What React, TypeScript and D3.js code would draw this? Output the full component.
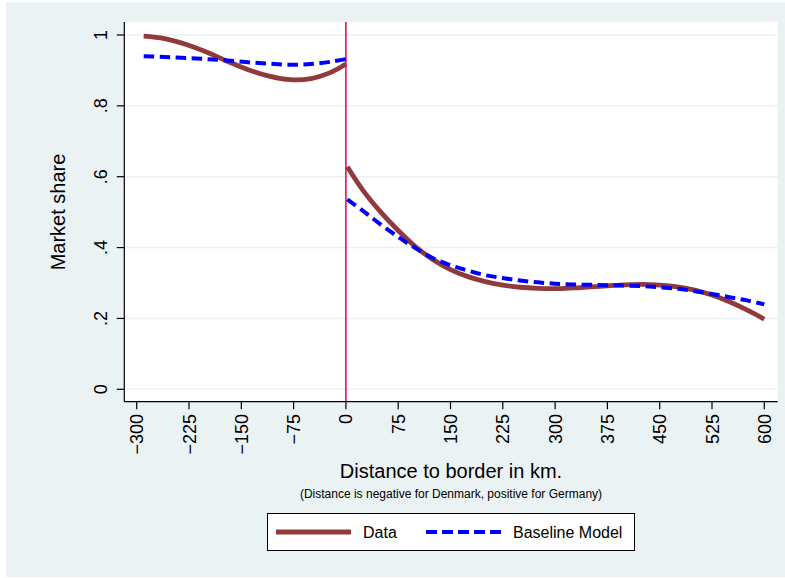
import * as d3 from "d3";

// distance to border (km) and market share
const leftKm = [-290, -260, -230, -200, -170, -140, -110, -80, -50, -20, 0];
const leftData = [0.997, 0.99, 0.974, 0.952, 0.926, 0.902, 0.884, 0.874, 0.877, 0.896, 0.918];
const leftModel = [0.94, 0.938, 0.935, 0.932, 0.928, 0.923, 0.919, 0.916, 0.918, 0.925, 0.932];

const rightKm = [2, 25, 50, 75, 100, 125, 150, 175, 200, 225, 250, 275, 300, 325, 350, 375, 400, 425, 450, 475, 500, 525, 550, 575, 600];
const rightData = [0.628, 0.56, 0.5, 0.448, 0.402, 0.366, 0.338, 0.318, 0.304, 0.294, 0.288, 0.285, 0.284, 0.286, 0.289, 0.292, 0.295, 0.296, 0.294, 0.289, 0.28, 0.266, 0.247, 0.224, 0.198];
const rightModel = [0.536, 0.503, 0.465, 0.43, 0.398, 0.37, 0.35, 0.335, 0.322, 0.314, 0.307, 0.302, 0.298, 0.296, 0.295, 0.294, 0.293, 0.291, 0.288, 0.284, 0.277, 0.269, 0.26, 0.251, 0.24];

const xTicks = [-300, -225, -150, -75, 0, 75, 150, 225, 300, 375, 450, 525, 600];
const yTicks = [0, 0.2, 0.4, 0.6, 0.8, 1];
const yTickLabels = ["0", ".2", ".4", ".6", ".8", "1"];

const dataColor = "#903a3c";
const modelColor = "#0000ff";
const bg = "#eaf2f3";
const font = "'Liberation Sans', Arial, Helvetica, sans-serif";

export default function App() {
  const W = 785;
  const H = 578;
  const plot = { left: 124.3, top: 22, right: 777.7, bottom: 401.7 };

  const x = d3.scaleLinear().domain([-300, 600]).range([136.7, 764.3]);
  const y = d3.scaleLinear().domain([0, 1]).range([389.3, 35]);

  const line = d3
    .line<[number, number]>()
    .x((d) => x(d[0]))
    .y((d) => y(d[1]))
    .curve(d3.curveCatmullRom.alpha(0.5));

  const zip = (xs: number[], ys: number[]) => xs.map((v, i) => [v, ys[i]] as [number, number]);
  const segments = [
    { km: leftKm, data: leftData, model: leftModel },
    { km: rightKm, data: rightData, model: rightModel },
  ];

  const fmtTick = (d: number) => (d < 0 ? "\u2212" + Math.abs(d) : String(d));

  return (
    <svg
      width={W}
      height={H}
      style={{ position: "absolute", left: 0, top: 0, fontFamily: font }}
    >
      <rect x={0} y={0} width={W} height={H} fill="#ffffff" />
      <rect x={6} y={2} width={W - 6} height={575} fill={bg} />
      <rect
        x={plot.left}
        y={plot.top}
        width={plot.right - plot.left}
        height={plot.bottom - plot.top}
        fill="#ffffff"
      />

      {/* grid */}
      {yTicks.map((t) => (
        <line
          key={"g" + t}
          x1={plot.left}
          x2={plot.right}
          y1={y(t)}
          y2={y(t)}
          stroke={bg}
          strokeWidth={1.5}
        />
      ))}

      {/* border line at 0 */}
      <line x1={x(0)} x2={x(0)} y1={plot.top} y2={plot.bottom} stroke="#d0103a" strokeWidth={1.5} />

      {/* series */}
      {segments.map((s, i) => (
        <path
          key={"d" + i}
          d={line(zip(s.km, s.data)) || ""}
          fill="none"
          stroke={dataColor}
          strokeWidth={4.8}
        />
      ))}
      {segments.map((s, i) => (
        <path
          key={"m" + i}
          d={line(zip(s.km, s.model)) || ""}
          fill="none"
          stroke={modelColor}
          strokeWidth={4}
          strokeDasharray="10.5,5.5"
        />
      ))}

      {/* axes */}
      <line x1={plot.left} x2={plot.left} y1={plot.top} y2={plot.bottom} stroke="#000" strokeWidth={1.2} />
      <line x1={plot.left} x2={plot.right} y1={plot.bottom} y2={plot.bottom} stroke="#000" strokeWidth={1.2} />

      {yTicks.map((t, i) => (
        <g key={"yt" + t}>
          <line x1={plot.left - 7.5} x2={plot.left} y1={y(t)} y2={y(t)} stroke="#000" strokeWidth={1.2} />
          <text
            transform={`translate(106.5,${y(t)}) rotate(-90)`}
            textAnchor="middle"
            fontSize={18}
            fill="#000"
          >
            {yTickLabels[i]}
          </text>
        </g>
      ))}

      {xTicks.map((t) => (
        <g key={"xt" + t}>
          <line x1={x(t)} x2={x(t)} y1={plot.bottom} y2={plot.bottom + 7.5} stroke="#000" strokeWidth={1.2} />
          <text
            transform={`translate(${x(t) + 6.5},414) rotate(-90)`}
            textAnchor="end"
            fontSize={18}
            fill="#000"
          >
            {fmtTick(t)}
          </text>
        </g>
      ))}

      {/* titles */}
      <text transform="translate(65,212) rotate(-90)" textAnchor="middle" fontSize={20} fill="#000">
        Market share
      </text>
      <text x={451} y={478} textAnchor="middle" fontSize={20} fill="#000">
        Distance to border in km.
      </text>
      <text x={451} y={498} textAnchor="middle" fontSize={12} fill="#000">
        (Distance is negative for Denmark, positive for Germany)
      </text>

      {/* legend */}
      <rect x={267.5} y={513.5} width={367} height={37} fill="#ffffff" stroke="#000" strokeWidth={1} />
      <line x1={276} x2={351} y1={532} y2={532} stroke={dataColor} strokeWidth={4.8} />
      <text x={363} y={538} fontSize={16} fill="#000">
        Data
      </text>
      <line
        x1={426}
        x2={501}
        y1={532}
        y2={532}
        stroke={modelColor}
        strokeWidth={4}
        strokeDasharray="11,5"
      />
      <text x={513} y={538} fontSize={16} fill="#000">
        Baseline Model
      </text>
    </svg>
  );
}
